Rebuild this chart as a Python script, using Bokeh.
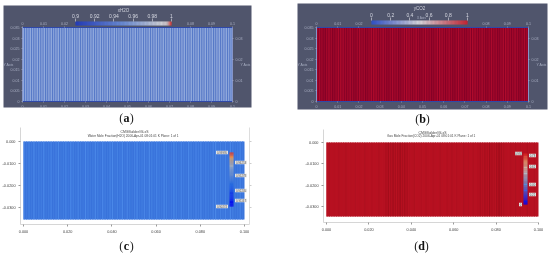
import numpy as np
from bokeh.embed import file_html
from bokeh.resources import INLINE
from bokeh.layouts import column, row
from bokeh.models import LinearAxis, Range1d, FixedTicker, LinearColorMapper
from bokeh.plotting import figure
from bokeh.transform import transform
from bokeh.core.properties import value

# ---- data ----
x_ticks_top = [0, 0.01, 0.02, 0.08, 0.09, 0.1]
x_ticks_bottom = [0, 0.01, 0.02, 0.03, 0.04, 0.05, 0.06, 0.07, 0.08, 0.09, 0.1]
y_ticks_left = [0, 0.005, 0.01, 0.015, 0.02, 0.025, 0.03, 0.035]
y_ticks_right = [0, 0.01, 0.02, 0.03]
cb_a_ticks = [0.9, 0.92, 0.94, 0.96, 0.98, 1.0]
cb_b_ticks = [0, 0.2, 0.4, 0.6, 0.8, 1.0]
x_ticks_cmg = [0, 0.02, 0.04, 0.06, 0.08, 0.1]
x_labels_cmg = ["0.000", "0.020", "0.040", "0.060", "0.080", "0.100"]
y_ticks_cmg = [0, -0.01, -0.02, -0.03]
y_labels_cmg = ["0.000", "-0.0100", "-0.0200", "-0.0300"]

xh2o_gap = 0.945
xh2o_cells = [
 .978,.976,.974,.978,.976,.972,.978,.976,.974,.978,.972,.976,.978,.974,.976,
 .978,.976,.972,.978,.976,.974,.978,.976,.972,.978,.976,.974,.978,.972,.976,
 .978,.974,.976,.978,.976,.972,.978,.976,.974,.978,.976,.972,.978,.976,.974,
 .978,.972,.976,.978,.974,.976,.978,.976,.972,.978,.976,.974,.978,.976,.972,
 .978,.976,.974,.978,.972,.976,.978,.974,.976,.978,.976,.972,.978,.976,.974,
 .978,.976,.972,.978,.976,.974,.978,.972,.976,.978,.974,.976,.978,.976,.972]
yco2_gap = 0.99
yco2_cells = [
 .96,.95,.96,.97,.96,.95,.96,.97,.96,.95,.94,.95,.96,.96,.95,
 .96,.97,.96,.95,.96,.96,.97,.96,.95,.94,.95,.96,.96,.95,.96,
 .97,.96,.95,.96,.96,.97,.96,.95,.94,.95,.96,.96,.95,.96,.97,
 .96,.95,.96,.96,.97,.96,.95,.94,.95,.96,.96,.95,.96,.97,.96,
 .95,.96,.96,.97,.96,.95,.94,.95,.96,.96,.95,.96,.97,.96,.95,
 .96,.96,.97,.96,.95,.94,.95,.96,.96,.95,.96,.97,.96,.95,.96]
water_base = 0.942
water_cells = [
 .952,.946,.950,.946,.954,.946,.950,.948,.954,.946,.948,.952,.946,.950,.954,
 .946,.948,.952,.946,.954,.950,.946,.952,.948,.946,.954,.950,.946,.948,.954,
 .950,.946,.954,.948,.946,.952,.954,.946,.950,.948,.954,.946,.952,.948,.946,
 .950,.954,.946,.948,.952,.946,.954,.950,.946,.952,.948,.946,.954,.950,.946,
 .948,.954,.950,.946,.952,.948,.946,.954,.950,.946,.952,.948,.954,.946,.950,
 .948,.946,.952,.954,.946,.950,.948,.952,.946,.954,.950,.946,.948,.952,.946]
gas_base = 0.95
gas_cells = [
 .95,.93,.95,.94,.95,.93,.95,.94,.92,.95,.94,.95,.93,.95,.94,
 .95,.92,.94,.95,.93,.95,.94,.92,.95,.94,.90,.88,.90,.87,.90,
 .89,.86,.90,.88,.90,.93,.94,.92,.95,.94,.93,.95,.92,.94,.95,
 .93,.94,.95,.92,.94,.95,.93,.94,.92,.95,.93,.94,.95,.92,.94,
 .93,.95,.92,.94,.93,.90,.92,.89,.91,.88,.90,.92,.89,.86,.90,
 .92,.94,.95,.93,.94,.92,.95,.93,.94,.95,.92,.94,.95,.93,.95]

water_labels_left = ["0.99995", "0.90274"]
water_labels_right = ["0.96253", "0.95278", "0.92205", "0.91167"]
gas_labels_left = ["0.992", "0"]
gas_labels_right = ["0.78", "0.62", "0.40", "0.22"]

# ---- style ----
GREY = "#50556c"
TXT = "#aab0c4"
CELL_STOPS_A = [(0.90, "#1c3ec8"), (0.945, "#4f72c4"), (0.978, "#8fa8dc"), (1.0, "#e8e8ec")]
CELL_STOPS_B = [(0.85, "#c81a2a"), (0.95, "#ac0a2c"), (1.0, "#7a0026")]
CELL_STOPS_C = [(0.90, "#1a3ad0"), (0.942, "#3a74dc"), (0.954, "#4a88e8"), (1.0, "#e8e8e8")]
CELL_STOPS_D = [(0.80, "#8e0a18"), (0.86, "#9c0c1a"), (0.95, "#b81222"), (1.0, "#d0202c")]
BAR_A = [(0.90, "#1a36c8"), (0.95, "#6f96e8"), (0.99, "#e6e6ea"), (0.996, "#e0d0d0"), (1.0, "#f02a20")]
BAR_B = [(0.0, "#2a50d8"), (0.5, "#f0eef0"), (1.0, "#dc1c28")]
BAR_C = [(0.90, "#0000f0"), (0.94, "#2468e0"), (0.975, "#9aa8c0"), (0.99, "#e0a060"), (1.0, "#f03a20")]
BAR_D = [(0.0, "#0000f0"), (0.4, "#5a90d8"), (0.65, "#c0c0c0"), (0.85, "#e0a070"), (1.0, "#d82020")]


def palette(stops, n=256):
    vals = [s[0] for s in stops]
    cols = [[int(s[1][i:i + 2], 16) for i in (1, 3, 5)] for s in stops]
    t = np.linspace(vals[0], vals[-1], n)
    rgb = [np.interp(t, vals, [c[k] for c in cols]) for k in range(3)]
    return ["#%02x%02x%02x" % (int(r), int(g), int(b)) for r, g, b in zip(*rgb)]


def panel(left, top, w, h, xpx, ypx, xv, yv):
    sx = (xv[1] - xv[0]) / (xpx[1] - xpx[0])
    sy = (yv[1] - yv[0]) / (ypx[1] - ypx[0])
    fx = lambda px: xv[0] + (px - xpx[0]) * sx
    fy = lambda py: yv[0] + (py - ypx[0]) * sy
    p = figure(width=w, height=h, output_backend="svg", toolbar_location=None,
               x_range=Range1d(fx(left), fx(left + w)),
               y_range=Range1d(fy(top + h), fy(top)),
               min_border=0, outline_line_color=None,
               x_axis_location=None, y_axis_location=None,
               background_fill_color="white", border_fill_color="white")
    p.grid.visible = False
    return p, fx, fy


def cells(p, vals, gap, stops, frac, xmax, y0, y1):
    m = LinearColorMapper(palette=palette(stops), low=stops[0][0], high=stops[-1][0])
    n = len(vals)
    w = xmax / n
    idx = np.arange(n)
    p.quad(left=[0], right=[xmax], bottom=[y0], top=[y1],
           fill_color=palette(stops)[int(255 * (gap - stops[0][0]) / (stops[-1][0] - stops[0][0]))],
           line_color=None)
    src = dict(l=idx * w, r=(idx + frac) * w, v=vals, b=[y0] * n, t=[y1] * n)
    p.quad(left="l", right="r", bottom="b", top="t", source=src,
           fill_color=transform("v", m), line_color=None)


def txt(p, x, y, s, size, color=TXT, align="center", font="Liberation Sans", style="normal"):
    p.text(x=[x], y=[y], text=[s], text_font=value(font), text_font_size=f"{size}px",
           text_color=color, text_align=align, text_baseline="middle", text_font_style=style)


def caption(p, fx, fy, cx, cy, letter):
    txt(p, fx(cx - 3.2), fy(cy), "(", 12, "#222222", "right", "Liberation Serif")
    txt(p, fx(cx), fy(cy), letter, 12, "#111111", "center", "Liberation Serif", "bold")
    txt(p, fx(cx + 3.2), fy(cy), ")", 12, "#222222", "left", "Liberation Serif")


def paraview_axes(p, fx, fy, ymax):
    for side, fix, ticks in (("above", ymax, x_ticks_top), ("below", 0, x_ticks_bottom)):
        ax = LinearAxis(fixed_location=fix, ticker=FixedTicker(ticks=ticks), bounds=(0, 0.1))
        ax.axis_line_color = "#2f48a8"
        p.add_layout(ax, side)
    for side, fix, ticks in (("left", 0, y_ticks_left), ("right", 0.1, y_ticks_right)):
        ax = LinearAxis(fixed_location=fix, ticker=FixedTicker(ticks=ticks), bounds=(0, ymax))
        ax.axis_line_color = "#8494c8"
        p.add_layout(ax, side)
    for ax in p.xaxis + p.yaxis:
        ax.major_tick_line_color = "#c4c8dc"
        ax.major_tick_line_width = 0.5
        ax.major_tick_out = 1
        ax.major_tick_in = 0
        ax.minor_tick_line_color = None
        ax.major_label_text_font_size = "3.6px"
        ax.major_label_text_color = TXT
        ax.major_label_standoff = 2
        ax.major_label_text_font = "Liberation Sans"


def color_strip(p, lo, hi, stops, ticks, data_per_unit, origin, ytop, ybot, name):
    p.extra_x_ranges[name] = Range1d(lo + (p.x_range.start - origin) / data_per_unit,
                                     lo + (p.x_range.end - origin) / data_per_unit)
    edges = np.linspace(lo, hi, 121)
    m = LinearColorMapper(palette=palette(stops), low=stops[0][0], high=stops[-1][0])
    src = dict(l=edges[:-1], r=edges[1:], v=(edges[:-1] + edges[1:]) / 2,
               b=[ybot] * 120, t=[ytop] * 120)
    p.quad(left="l", right="r", bottom="b", top="t", source=src, x_range_name=name,
           fill_color=transform("v", m), line_color=None)
    ax = LinearAxis(x_range_name=name, fixed_location=ytop, ticker=FixedTicker(ticks=ticks), bounds=(lo, hi))
    ax.axis_line_color = None
    ax.major_tick_line_color = "#e0e0e8"
    ax.major_tick_line_width = 0.6
    ax.major_tick_out = 3
    ax.major_tick_in = 0
    ax.minor_tick_line_color = None
    ax.major_label_text_font_size = "5px"
    ax.major_label_text_color = "#d6d8e2"
    ax.major_label_standoff = 1
    ax.major_label_text_font = "Liberation Sans"
    p.add_layout(ax, "above")


def cmg_axes(p, xb, yb, xaxis_at, yaxis_at):
    ax = LinearAxis(fixed_location=yaxis_at, ticker=FixedTicker(ticks=x_ticks_cmg), bounds=xb,
                    major_label_overrides=dict(zip(x_ticks_cmg, x_labels_cmg)))
    p.add_layout(ax, "below")
    ay = LinearAxis(fixed_location=xaxis_at, ticker=FixedTicker(ticks=y_ticks_cmg), bounds=yb,
                    major_label_overrides=dict(zip(y_ticks_cmg, y_labels_cmg)))
    p.add_layout(ay, "left")
    for a in (ax, ay):
        a.axis_line_color = "#cccccc"
        a.axis_line_width = 0.8
        a.major_tick_line_color = "#999999"
        a.major_tick_out = 2
        a.major_tick_in = 0
        a.minor_tick_line_color = None
        a.major_label_text_font_size = "3.8px"
        a.major_label_text_color = "#444444"
        a.major_label_standoff = 3
        a.major_label_text_font = "Liberation Sans"


def cmg_bar(p, fx, fy, px0, px1, py0, py1, stops):
    lo, hi = stops[0][0], stops[-1][0]
    n = 60
    ys = np.linspace(py1, py0, n + 1)
    vals = np.linspace(lo, hi, n)
    m = LinearColorMapper(palette=palette(stops), low=lo, high=hi)
    src = dict(b=[fy(v) for v in ys[:-1]], t=[fy(v) for v in ys[1:]], v=vals,
               l=[fx(px0)] * n, r=[fx(px1)] * n)
    p.quad(left="l", right="r", bottom="b", top="t", source=src,
           fill_color=transform("v", m), line_color=None)


def tag(p, fx, fy, pxc, pyc, s, w):
    p.quad(left=[fx(pxc - w / 2)], right=[fx(pxc + w / 2)],
           bottom=[fy(pyc + 1.8)], top=[fy(pyc - 1.8)], fill_color="#e4e4e4", line_color=None)
    txt(p, fx(pxc), fy(pyc), s, 2.8, "#555555")


# ---- (a) ----
pa, fx, fy = panel(0, 0, 275, 126, (22, 232), (101, 27), (0, 0.1), (0, 0.035))
pa.quad(left=[fx(3)], right=[fx(251)], bottom=[fy(107)], top=[fy(5)], fill_color=GREY, line_color=None)
cells(pa, xh2o_cells, xh2o_gap, CELL_STOPS_A, 0.65, 0.1, 0, 0.035)
paraview_axes(pa, fx, fy, 0.035)
color_strip(pa, 0.9, 1.0, BAR_A, cb_a_ticks, (fx(171) - fx(75)) / 0.1, fx(75), fy(21), fy(25), "cb")
txt(pa, fx(123), fy(10), "xH2O", 4.5, "#d0d2dc")
txt(pa, fx(8), fy(64), "Y Axis", 3.5)
txt(pa, fx(245), fy(64), "Y Axis", 3.5)
caption(pa, fx, fy, 126, 117, "a")

# ---- (b) ----
pb, fx, fy = panel(275, 0, 275, 126, (316, 528), (101, 27), (0, 0.1), (0, 0.035))
pb.quad(left=[fx(297)], right=[fx(547)], bottom=[fy(109)], top=[fy(3)], fill_color=GREY, line_color=None)
cells(pb, yco2_cells, yco2_gap, CELL_STOPS_B, 0.6, 0.1, 0, 0.035)
paraview_axes(pb, fx, fy, 0.035)
color_strip(pb, 0.0, 1.0, BAR_B, cb_b_ticks, fx(467) - fx(371), fx(371), fy(20), fy(24), "cb")
txt(pb, fx(419), fy(8), "yCO2", 4.5, "#d0d2dc")
txt(pb, fx(421), fy(17), "X Axis", 3.2)
txt(pb, fx(302), fy(64), "Y Axis", 3.5)
txt(pb, fx(541), fy(64), "Y Axis", 3.5)
caption(pb, fx, fy, 422, 118, "b")

# ---- (c) ----
T = 126
pc, fx, fy = panel(0, T, 275, 127, (23, 244), (141, 207), (0, 0.1), (0, -0.03))
cells(pc, water_cells, water_base, CELL_STOPS_C, 0.5, 0.1, fy(219), 0)
cmg_axes(pc, (fx(20), fx(249)), (fy(224), fy(127)), fx(20), fy(224))
faint = LinearAxis(fixed_location=fx(249), ticker=FixedTicker(ticks=y_ticks_cmg), bounds=(fy(224), fy(127)),
                   major_label_text_color=None, axis_line_color="#dddddd", major_tick_line_color="#cccccc",
                   minor_tick_line_color=None, major_tick_in=0, major_tick_out=2)
pc.add_layout(faint, "right")
txt(pc, fx(134), fy(131), "CMGBuilder/GLxS", 3.4, "#444444")
txt(pc, fx(134), fy(135), "Water Mole Fraction(H2O)  2006-Apr-01 08:01:01   K Plane: 1 of 1", 3.2, "#444444")
cmg_bar(pc, fx, fy, 229, 233, 152, 206, BAR_C)
for py, s in zip((152, 206), water_labels_left):
    tag(pc, fx, fy, 221.5, py, s, 12)
for py, s in zip((162, 175, 190, 200), water_labels_right):
    tag(pc, fx, fy, 240.5, py, s, 12)
caption(pc, fx, fy, 126, 245, "c")

# ---- (d) ----
pd_, fx, fy = panel(275, T, 275, 127, (326, 538), (142, 206), (0, 0.1), (0, -0.03))
cells(pd_, gas_cells, gas_base, CELL_STOPS_D, 0.5, 0.1, fy(216), 0)
cmg_axes(pd_, (fx(323), 0.1), (fy(222), fy(129)), fx(323), fy(222))
txt(pd_, fx(432), fy(132), "CMGBuilder/GLxS", 3.4, "#444444")
txt(pd_, fx(432), fy(135.5), "Gas Mole Fraction(CO2)  2006-Apr-01 08:01:01   K Plane: 1 of 1", 3.2, "#444444")
cmg_bar(pd_, fx, fy, 523, 527, 153, 204, BAR_D)
for py, s, pxc, w in zip((153, 204), gas_labels_left, (518, 520), (7, 3)):
    tag(pd_, fx, fy, pxc, py, s, w)
for py, s in zip((155, 166, 184, 194), gas_labels_right):
    tag(pd_, fx, fy, 532, py, s, 7)
caption(pd_, fx, fy, 421, 245, "d")

root = column(row(pa, pb, spacing=0), row(pc, pd_, spacing=0), spacing=0)
root.styles = {"position": "absolute", "left": "0px", "top": "0px", "filter": "blur(0.3px)"}
open("out.html", "w").write(file_html(root, INLINE))
